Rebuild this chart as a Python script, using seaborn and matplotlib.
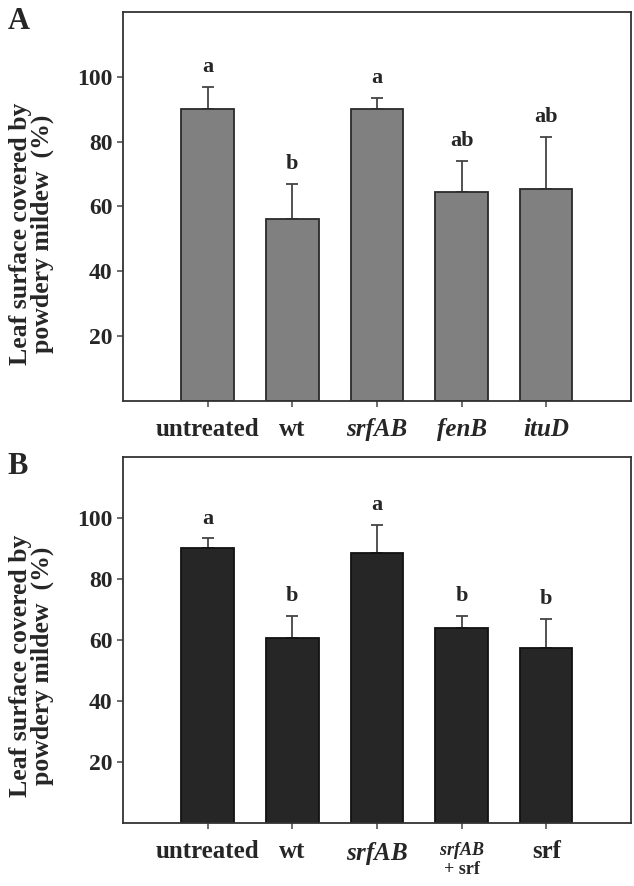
import numpy as np
import pandas as pd
import matplotlib
matplotlib.use("Agg")
import matplotlib.pyplot as plt
import seaborn as sns

# data (% leaf surface covered, mean and upper SD)
groups_a = ["untreated", "wt", "srfAB", "fenB", "ituD"]
means_a = [90.0, 56.0, 90.0, 64.5, 65.5]
err_a = [7.0, 11.0, 3.5, 9.5, 16.0]
letters_a = ["a", "b", "a", "ab", "ab"]

groups_b = ["untreated", "wt", "srfAB", "srfAB + srf", "srf"]
means_b = [90.3, 60.7, 88.6, 64.0, 57.5]
err_b = [3.0, 7.3, 9.2, 4.0, 9.5]
letters_b = ["a", "b", "a", "b", "b"]

tick_labels_a = ["untreated", "wt", "srfAB", "fenB", "ituD"]
tick_labels_b = ["untreated", "wt", "$\\it{srfAB}$", "$\\it{srfAB}$\n+ srf", "srf"]
italic_a = [False, False, True, True, True]

sns.set_style("ticks")
plt.rcParams["font.family"] = ["Liberation Serif", "DejaVu Serif"]
plt.rcParams["font.weight"] = "bold"
plt.rcParams["mathtext.fontset"] = "custom"
plt.rcParams["mathtext.it"] = "Liberation Serif:italic:bold"
plt.rcParams["mathtext.rm"] = "Liberation Serif:bold"

fig = plt.figure(figsize=(6.34, 8.86), dpi=100)
ax_a = fig.add_axes([0.194, 0.5474, 0.801, 0.4391])
ax_b = fig.add_axes([0.194, 0.0711, 0.801, 0.4131])


def draw_panel(ax, groups, means, err, letters, bar_color, edge_color):
    df = pd.DataFrame({"group": groups, "value": means})
    sns.barplot(data=df, x="group", y="value", color=bar_color, saturation=1,
                edgecolor=edge_color, linewidth=1.3, width=0.62,
                errorbar=None, ax=ax, zorder=2)
    n = len(means)
    ax.errorbar(np.arange(n), means, yerr=[np.zeros(n), err], fmt="none",
                ecolor="#444444", elinewidth=1.3, capsize=4, capthick=1.3,
                zorder=1)
    for i in range(n):
        ax.annotate(letters[i], (i, means[i] + err[i]), xytext=(0, 7),
                    textcoords="offset points", ha="center", va="bottom",
                    fontsize=16, fontweight="bold")
    ax.set_xlim(-1, 5)
    ax.set_ylim(0, 120)
    ax.set_yticks([20, 40, 60, 80, 100])
    ax.set_xlabel("")
    ax.set_ylabel("Leaf surface covered by\npowdery mildew  (%)",
                  fontsize=18.5, fontweight="bold", linespacing=0.95)
    ax.yaxis.set_label_coords(-0.135, 0.43)
    for side in ["top", "right", "left", "bottom"]:
        ax.spines[side].set_visible(True)
        ax.spines[side].set_color("#333333")
        ax.spines[side].set_linewidth(1.3)
    ax.tick_params(axis="both", direction="out", length=4, width=1.2,
                   color="#555555", labelsize=17)
    ax.tick_params(axis="x", pad=8, labelsize=18)


draw_panel(ax_a, groups_a, means_a, err_a, letters_a, "#808080", "#2a2a2a")
draw_panel(ax_b, groups_b, means_b, err_b, letters_b, "#262626", "#111111")

ax_a.set_xticks(range(len(tick_labels_a)))
ax_a.set_xticklabels(tick_labels_a)
for lab, it in zip(ax_a.get_xticklabels(), italic_a):
    lab.set_fontweight("bold")
    if it:
        lab.set_fontstyle("italic")

ax_b.set_xticks(range(len(tick_labels_b)))
ax_b.set_xticklabels(tick_labels_b)
for i, lab in enumerate(ax_b.get_xticklabels()):
    lab.set_fontweight("bold")
    if i == 3:
        lab.set_fontsize(13)
        lab.set_linespacing(1.0)

for lab in ax_a.get_yticklabels() + ax_b.get_yticklabels():
    lab.set_fontweight("bold")

fig.text(0.012, 0.992, "A", fontsize=22, fontweight="bold", va="top")
fig.text(0.012, 0.490, "B", fontsize=22, fontweight="bold", va="top")

fig.savefig("out.png", dpi=100, facecolor="white")
